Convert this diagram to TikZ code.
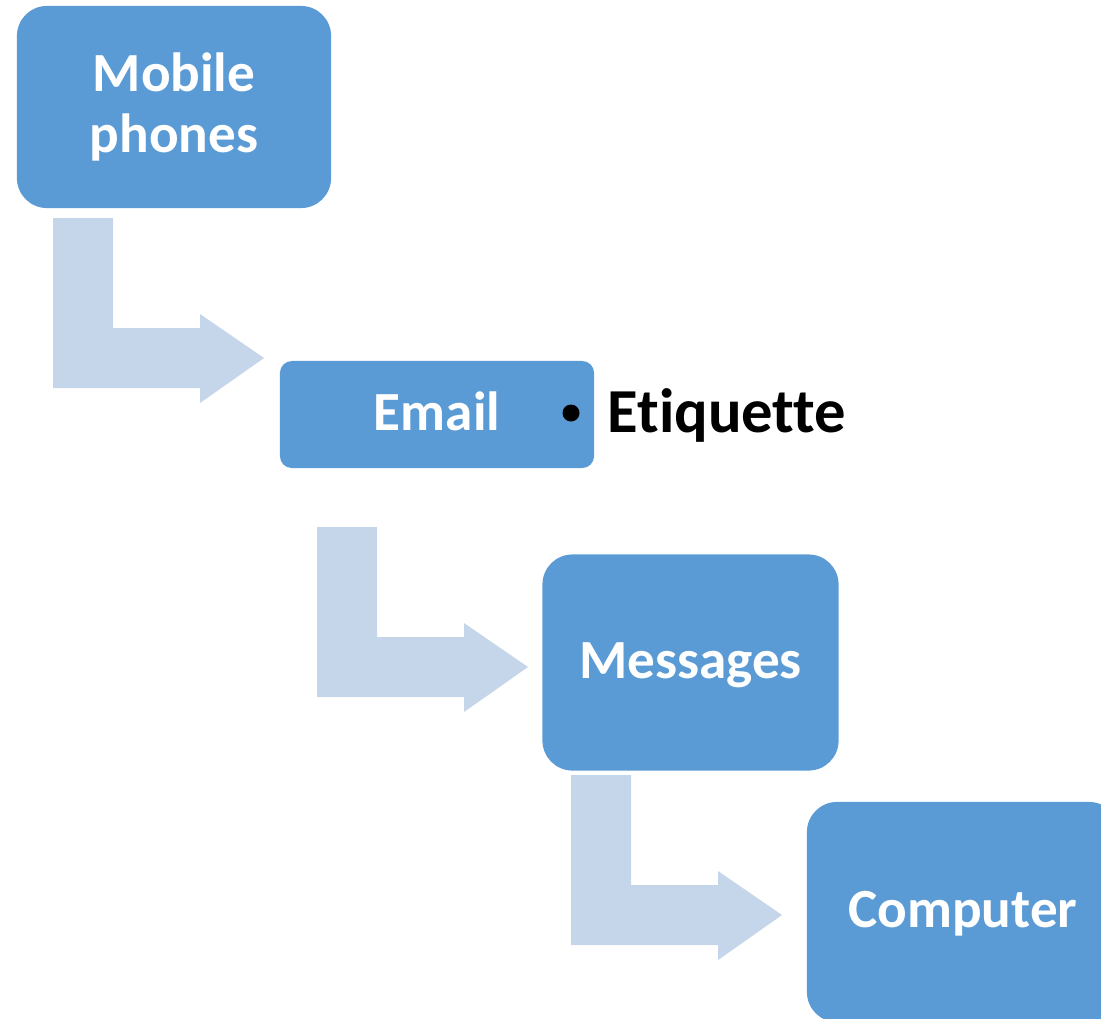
\documentclass[tikz,border=0pt]{standalone}
\usepackage{fontspec}
\setmainfont[Ligatures=NoCommon]{Carlito}
\definecolor{boxblue}{HTML}{5B9BD5}
\definecolor{arrowblue}{HTML}{C5D5EA}
\tikzset{
    stagebox/.style={rectangle, fill=boxblue, text=white, inner sep=0pt,
        rounded corners=0.3cm, align=center,
        font=\fontsize{15.7}{17.6}\selectfont\bfseries},
    oneline/.style={text height=10pt, text depth=1pt},
    bentarrow/.style={fill=arrowblue}
}
\begin{document}
\begin{tikzpicture}[x=0.01cm,y=-0.01cm]
                %\draw[help lines,step=100] (0,0) grid (1101,1018);
                \path[use as bounding box,clip] (0,0) rectangle (1101,1018);
                \foreach \dx/\dy in {53/218,317/527,571/775}
                    \fill[bentarrow,shift={(\dx,\dy)}] (0,0) -- (60,0) -- (60,110) -- (147,110) -- (147,96)
                        -- (211,140) -- (147,185) -- (147,170) -- (0,170) -- cycle;
                \node[stagebox,minimum width=3.14cm,minimum height=2.02cm] (mobile) at (174,107) {Mobile\\phones};
                \node[stagebox,oneline,minimum width=3.14cm,minimum height=1.07cm,rounded corners=0.12cm] (email) at (437,414.5) {Email};
                \node[stagebox,oneline,minimum width=2.96cm,minimum height=2.16cm] (messages) at (690.5,662.5) {Messages};
                \node[stagebox,oneline,minimum width=3.12cm,minimum height=2.2cm] (computer) at (963,912) {Computer};
                \node[circle,fill=black,inner sep=0pt,minimum size=0.17cm] (dot) at (571,413) {};
                \node[anchor=base west,inner sep=0pt,font=\fontsize{17.8}{20}\selectfont\bfseries] (etiquette) at (607,432) {Etiquette};
            \end{tikzpicture}
\end{document}
